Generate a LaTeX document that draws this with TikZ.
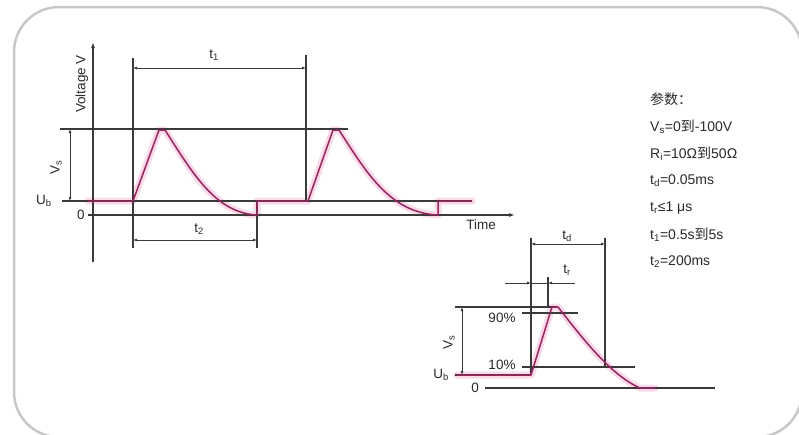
\documentclass[tikz,border=0pt]{standalone}
\usepackage{fontspec}
\setmainfont{Liberation Sans}
\newfontfamily\cjk{Noto Sans CJK SC}
\usetikzlibrary{arrows.meta}
\definecolor{lc}{HTML}{3A3A3A}
\definecolor{tc}{HTML}{2A2A2A}
\definecolor{fr}{HTML}{C8C8C8}
\definecolor{wv}{RGB}{150,38,95}
\definecolor{pk}{RGB}{240,130,185}
\begin{document}
\begin{tikzpicture}[x=1pt,y=-1pt,
  ln/.style={draw=lc,line width=1.5pt},
  dimln/.style={draw=lc,line width=1pt,{Latex[length=4pt,width=3pt]}-{Latex[length=4pt,width=3pt]}},
  onearr/.style={draw=lc,line width=1pt,-{Latex[length=4pt,width=3pt]}},
  wave/.style={draw=wv,line width=1.5pt,line join=round},
  glow/.style={draw=pk,line width=7pt,opacity=0.3,line join=round,line cap=round},
  lbl/.style={font=\fontsize{13.5}{15}\selectfont,text=tc,inner sep=0pt},
  par/.style={font=\fontsize{14}{16}\selectfont,text=tc,inner sep=0pt,anchor=west}]
\useasboundingbox (0,0) rectangle (799,434);
\fill[white] (0,0) rectangle (799,434);
\draw[fr,line width=2.5pt,rounded corners=45pt] (14,7) rectangle (802,437);

% ---------- main diagram ----------
\coordinate (yb) at (93,262); \coordinate (yt) at (93,42);
\coordinate (xl) at (88,215); \coordinate (xr) at (515,215);
\coordinate (ubl) at (62,201); \coordinate (ubr) at (472,201);
\coordinate (vsl) at (60,129); \coordinate (vsr) at (348,129);
\coordinate (a1) at (133,58); \coordinate (a2) at (133,248);
\coordinate (b1) at (306,55); \coordinate (b2) at (306,201);
\coordinate (c1) at (257,201); \coordinate (c2) at (257,248);
\coordinate (t1l) at (133,68); \coordinate (t1r) at (306,68);
\coordinate (t2l) at (133,240); \coordinate (t2r) at (257,240);
\coordinate (vst) at (70,129); \coordinate (vsb) at (70,201);

\draw[glow] (88,201) -- (133,201) -- (159,130) -- (165,130)
  .. controls (192,172) and (215,213) .. (257,215) -- (257,201) -- (308,201)
  -- (333,130) -- (339,130) .. controls (366,172) and (390,213) .. (438,215)
  -- (438,201) -- (472,201);

\draw[ln,-{Latex[length=6pt,width=4pt]}] (yb) -- (yt);
\draw[ln,-{Latex[length=6pt,width=4pt]}] (xl) -- (xr);
\draw[ln] (ubl) -- (ubr);
\draw[ln] (vsl) -- (vsr);
\draw[ln] (a1) -- (a2);
\draw[ln] (b1) -- (b2);
\draw[ln] (c1) -- (c2);
\draw[dimln] (t1l) -- (t1r);
\draw[dimln] (t2l) -- (t2r);
\draw[dimln] (vst) -- (vsb);

\draw[wave] (88,201) -- (133,201) -- (159,130) -- (165,130)
  .. controls (192,172) and (215,213) .. (257,215) -- (257,201) -- (308,201)
  -- (333,130) -- (339,130) .. controls (366,172) and (390,213) .. (438,215)
  -- (438,201) -- (472,201);

\node[lbl] (lt1) at (214,55) {t\textsubscript{1}};
\node[lbl] (lt2) at (199,229) {t\textsubscript{2}};
\node[lbl,rotate=90] (lvs) at (56,167) {V\textsubscript{s}};
\node[lbl] (lub) at (44,201) {U\textsubscript{b}};
\node[lbl] (l0) at (81,215) {0};
\node[lbl] (ltime) at (481,225) {Time};
\node[lbl,rotate=90] (lvolt) at (82,84) {Voltage V};

% ---------- small diagram ----------
\coordinate (st1) at (455,307); \coordinate (st2) at (557,307);
\coordinate (sub1) at (455,375); \coordinate (sub2) at (531,375);
\coordinate (sz1) at (485,388); \coordinate (sz2) at (715,388);
\coordinate (d1) at (531,238); \coordinate (d2) at (531,375);
\coordinate (e1) at (605,238); \coordinate (e2) at (605,367);
\coordinate (n1) at (522,313); \coordinate (n2) at (578,313);
\coordinate (p1) at (522,367); \coordinate (p2) at (635,367);
\coordinate (svt) at (462,307); \coordinate (svb) at (462,375);
\coordinate (tdl) at (531,244); \coordinate (tdr) at (605,244);
\coordinate (f1) at (548,277); \coordinate (f2) at (548,307);
\coordinate (trl) at (505,283); \coordinate (tra) at (531,283);
\coordinate (trb) at (548,283); \coordinate (trr) at (575,283);

\draw[glow] (457,375) -- (531,375) -- (552,307) -- (558,307)
  .. controls (580,335) and (610,375) .. (640,388) -- (655,388);

\draw[ln] (st1) -- (st2);
\draw[ln] (sub1) -- (sub2);
\draw[ln] (sz1) -- (sz2);
\draw[ln] (d1) -- (d2);
\draw[ln] (e1) -- (e2);
\draw[ln] (n1) -- (n2);
\draw[ln] (p1) -- (p2);
\draw[ln] (f1) -- (f2);
\draw[dimln] (svt) -- (svb);
\draw[dimln] (tdl) -- (tdr);
\draw[onearr] (trl) -- (tra);
\draw[draw=lc,line width=1pt] (tra) -- (trb);
\draw[onearr] (trr) -- (trb);

\draw[wave] (457,375) -- (531,375) -- (552,307) -- (558,307)
  .. controls (580,335) and (610,375) .. (640,388) -- (655,388);

\node[lbl] (ltd) at (567,236) {t\textsubscript{d}};
\node[lbl] (ltr) at (567,270) {t\textsubscript{r}};
\node[lbl] (l90) at (502,318) {90\%};
\node[lbl] (l10) at (502,365) {10\%};
\node[lbl,rotate=90] (lsvs) at (449,342) {V\textsubscript{s}};
\node[lbl] (lsub) at (441,375) {U\textsubscript{b}};
\node[lbl] (ls0) at (475,388) {0};

% ---------- parameters ----------
\node[par] (q0) at (650,99) {\cjk 参数：};
\node[par] (q1) at (650,127) {V\textsubscript{s}=0{\cjk 到}-100V};
\node[par] (q2) at (650,154) {R\textsubscript{i}=10Ω{\cjk 到}50Ω};
\node[par] (q3) at (650,181) {t\textsubscript{d}=0.05ms};
\node[par] (q4) at (650,208) {t\textsubscript{r}≤1 μs};
\node[par] (q5) at (650,235) {t\textsubscript{1}=0.5s{\cjk 到}5s};
\node[par] (q6) at (650,262) {t\textsubscript{2}=200ms};
\end{tikzpicture}
\end{document}
